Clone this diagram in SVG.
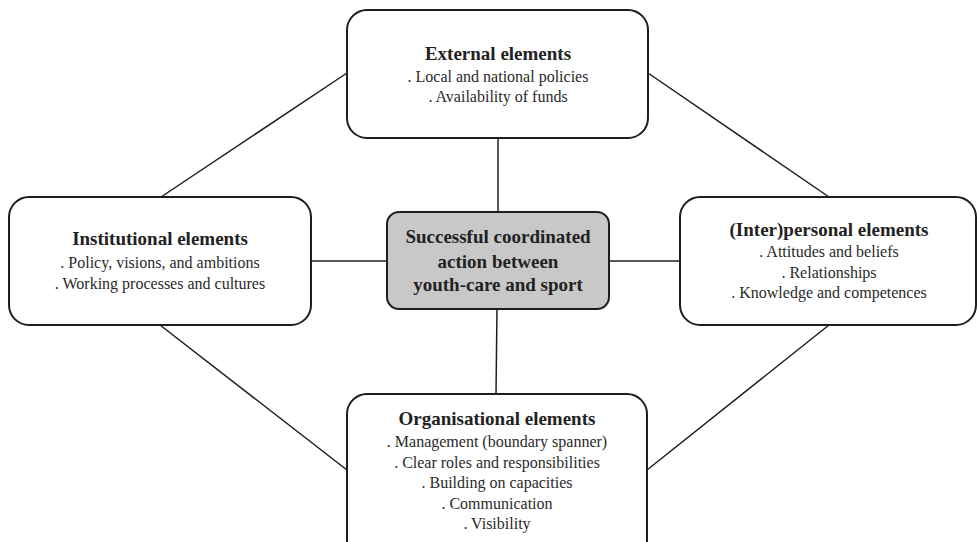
<svg xmlns="http://www.w3.org/2000/svg" width="977" height="542" viewBox="0 0 977 542">
  <style>
    .box { fill: #ffffff; stroke: #1e1e1e; stroke-width: 2; }
    .core { fill: #c8c8c8; stroke: #1e1e1e; stroke-width: 2; }
    .link { stroke: #1e1e1e; stroke-width: 1.5; fill: none; }
    .title { font-size: 19px; font-weight: bold; fill: #222; }
    .item { font-size: 16px; fill: #2a2a2a; }
  </style>
  <rect width="977" height="542" fill="#ffffff"/>

  <!-- connectors -->
  <g id="connectors">
    <line class="link" x1="498" y1="138" x2="498" y2="212"/>
    <line class="link" x1="497" y1="309" x2="496" y2="394"/>
    <line class="link" x1="311" y1="261" x2="387" y2="261"/>
    <line class="link" x1="609" y1="261" x2="680" y2="261"/>
    <line class="link" x1="347" y1="73" x2="161" y2="197"/>
    <line class="link" x1="648" y1="73" x2="829" y2="197"/>
    <line class="link" x1="160" y1="325" x2="347" y2="470"/>
    <line class="link" x1="829" y1="325" x2="647" y2="470"/>
  </g>

  <g font-family="Liberation Serif, Times New Roman, serif" text-anchor="middle">
    <g id="external">
      <rect class="box" x="347" y="10" width="301" height="128" rx="20"/>
      <text class="title" x="498" y="60">External elements</text>
      <text class="item" x="498" y="82">. Local and national policies</text>
      <text class="item" x="498" y="102">. Availability of  funds</text>
    </g>

    <g id="institutional">
      <rect class="box" x="9" y="197" width="302" height="128" rx="20"/>
      <text class="title" x="160" y="245">Institutional elements</text>
      <text class="item" x="160" y="268">. Policy, visions, and ambitions</text>
      <text class="item" x="160" y="289">. Working processes and cultures</text>
    </g>

    <g id="core">
      <rect class="core" x="387" y="212" width="222" height="97" rx="12"/>
      <text class="title" x="498" y="243">Successful coordinated</text>
      <text class="title" x="498" y="268">action between</text>
      <text class="title" x="498" y="291">youth-care and sport</text>
    </g>

    <g id="interpersonal">
      <rect class="box" x="680" y="197" width="296" height="128" rx="20"/>
      <text class="title" x="829" y="236">(Inter)personal elements</text>
      <text class="item" x="829" y="257">. Attitudes and beliefs</text>
      <text class="item" x="829" y="278">. Relationships</text>
      <text class="item" x="829" y="298">. Knowledge and competences</text>
    </g>

    <g id="organisational">
      <rect class="box" x="347" y="394" width="300" height="170" rx="20"/>
      <text class="title" x="497" y="425">Organisational elements</text>
      <text class="item" x="497" y="447">. Management (boundary spanner)</text>
      <text class="item" x="497" y="468">. Clear roles and responsibilities</text>
      <text class="item" x="497" y="488">. Building on capacities</text>
      <text class="item" x="497" y="509">. Communication</text>
      <text class="item" x="497" y="529">. Visibility</text>
    </g>
  </g>
</svg>
